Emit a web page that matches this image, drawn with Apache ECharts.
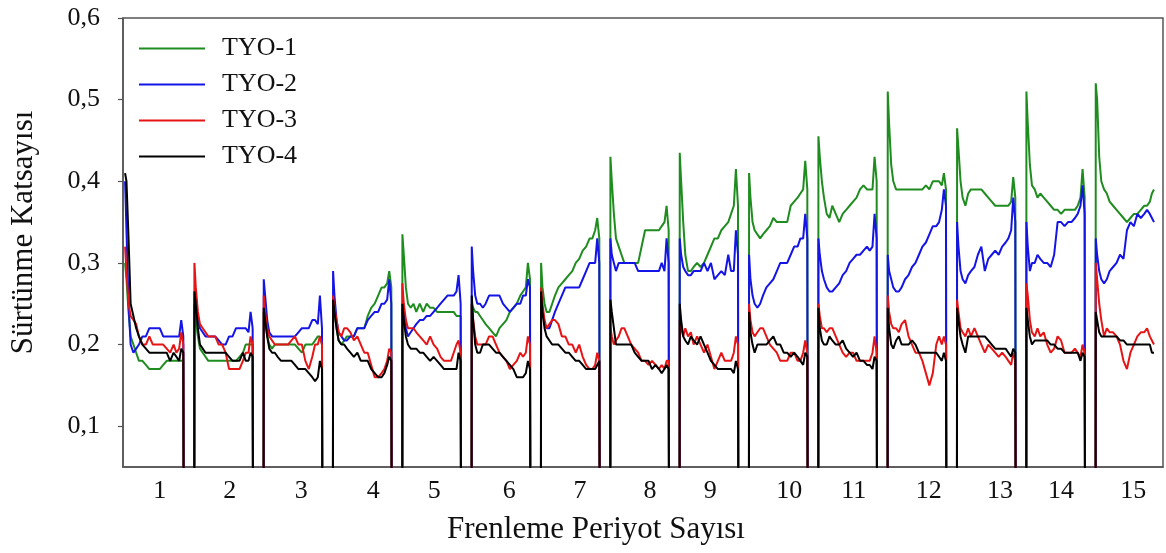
<!DOCTYPE html>
<html>
<head>
<meta charset="utf-8">
<script src="https://cdn.jsdelivr.net/npm/echarts@6/dist/echarts.min.js"></script>
<style>
  html, body { margin: 0; padding: 0; background: #fff; }
  #chart { width: 1166px; height: 553px; }
</style>
</head>
<body>
<div id="chart"></div>
<script>
// Braking periods on the x axis
const periods = ['1','2','3','4','5','6','7','8','9','10','11','12','13','14','15'];
// Where each period label sits along the x axis (period units)
const periodLabelPos = [0.53, 1.54, 2.57, 3.61, 4.49, 5.57, 6.59, 7.60, 8.47, 9.61, 10.54, 11.62, 12.65, 13.53, 14.57];
// Y tick values
const yTicks = [0.1, 0.2, 0.3, 0.4, 0.5, 0.6];
// Sampling points inside one braking period (fraction of a period)
const sampleOffsets = [0, 0.02, 0.05, 0.08, 0.12, 0.16, 0.20, 0.25, 0.30, 0.35, 0.40, 0.45, 0.50, 0.55, 0.60, 0.65, 0.70, 0.74, 0.78, 0.81, 0.84];

// Friction coefficient per period, one row per period
const tyo1 = [
  [0.30,0.28,0.24,0.21,0.20,0.19,0.18,0.18,0.175,0.17,0.17,0.17,0.17,0.175,0.18,0.18,0.18,0.18,0.18,0.18,0.18],
  [0.24,0.23,0.21,0.195,0.19,0.185,0.18,0.18,0.18,0.18,0.18,0.18,0.18,0.18,0.18,0.185,0.19,0.20,0.20,0.20,0.20],
  [0.24,0.23,0.21,0.20,0.195,0.20,0.20,0.20,0.20,0.20,0.20,0.20,0.195,0.19,0.20,0.20,0.20,0.205,0.21,0.21,0.20],
  [0.25,0.24,0.22,0.205,0.20,0.205,0.21,0.21,0.21,0.22,0.22,0.22,0.235,0.245,0.25,0.26,0.27,0.27,0.275,0.29,0.27],
  [0.335,0.31,0.27,0.25,0.245,0.25,0.24,0.25,0.24,0.25,0.245,0.245,0.24,0.24,0.24,0.24,0.24,0.24,0.235,0.235,0.235],
  [0.25,0.245,0.24,0.24,0.235,0.23,0.225,0.22,0.215,0.21,0.22,0.225,0.23,0.24,0.245,0.25,0.26,0.265,0.27,0.30,0.28],
  [0.30,0.27,0.25,0.24,0.24,0.25,0.26,0.27,0.275,0.28,0.285,0.29,0.30,0.305,0.315,0.32,0.33,0.33,0.34,0.355,0.33],
  [0.43,0.40,0.36,0.33,0.32,0.31,0.30,0.30,0.30,0.30,0.30,0.32,0.34,0.34,0.34,0.34,0.34,0.345,0.35,0.37,0.34],
  [0.435,0.40,0.35,0.31,0.29,0.29,0.295,0.30,0.295,0.30,0.31,0.32,0.33,0.33,0.34,0.345,0.35,0.36,0.37,0.415,0.37],
  [0.41,0.38,0.35,0.34,0.335,0.33,0.335,0.34,0.345,0.355,0.35,0.35,0.35,0.35,0.37,0.375,0.38,0.385,0.39,0.425,0.39],
  [0.455,0.43,0.40,0.38,0.36,0.355,0.37,0.36,0.35,0.36,0.365,0.37,0.375,0.38,0.39,0.395,0.39,0.39,0.39,0.43,0.40],
  [0.51,0.47,0.42,0.40,0.39,0.39,0.39,0.39,0.39,0.39,0.39,0.39,0.39,0.395,0.39,0.40,0.40,0.40,0.395,0.41,0.39],
  [0.465,0.44,0.40,0.38,0.37,0.385,0.39,0.39,0.39,0.39,0.385,0.38,0.375,0.37,0.37,0.37,0.37,0.37,0.375,0.405,0.38],
  [0.51,0.47,0.42,0.395,0.39,0.38,0.385,0.38,0.375,0.37,0.365,0.365,0.36,0.365,0.365,0.365,0.365,0.37,0.38,0.415,0.38],
  [0.52,0.50,0.43,0.40,0.39,0.385,0.375,0.37,0.365,0.36,0.355,0.35,0.355,0.36,0.36,0.365,0.37,0.37,0.375,0.385,0.39]
];
const tyo2 = [
  [0.40,0.34,0.25,0.20,0.19,0.195,0.20,0.21,0.21,0.22,0.22,0.22,0.22,0.21,0.21,0.21,0.21,0.21,0.21,0.23,0.21],
  [0.25,0.24,0.23,0.22,0.215,0.21,0.21,0.21,0.21,0.205,0.20,0.20,0.21,0.21,0.22,0.22,0.22,0.22,0.215,0.24,0.22],
  [0.28,0.26,0.23,0.215,0.21,0.21,0.21,0.21,0.21,0.21,0.21,0.21,0.215,0.22,0.22,0.22,0.23,0.23,0.225,0.26,0.22],
  [0.29,0.26,0.23,0.215,0.21,0.205,0.205,0.21,0.21,0.22,0.22,0.22,0.23,0.235,0.24,0.24,0.25,0.25,0.255,0.28,0.25],
  [0.25,0.24,0.22,0.21,0.215,0.22,0.225,0.23,0.23,0.235,0.235,0.24,0.245,0.25,0.255,0.26,0.26,0.26,0.265,0.285,0.25],
  [0.32,0.29,0.26,0.25,0.25,0.245,0.25,0.26,0.26,0.26,0.26,0.25,0.245,0.24,0.245,0.25,0.25,0.26,0.26,0.28,0.27],
  [0.26,0.24,0.225,0.22,0.22,0.23,0.24,0.25,0.26,0.27,0.27,0.27,0.27,0.27,0.28,0.29,0.30,0.30,0.30,0.33,0.30],
  [0.33,0.31,0.30,0.29,0.30,0.30,0.30,0.30,0.30,0.30,0.29,0.29,0.29,0.29,0.29,0.29,0.29,0.30,0.29,0.33,0.30],
  [0.33,0.31,0.295,0.29,0.285,0.285,0.29,0.29,0.29,0.30,0.29,0.30,0.28,0.285,0.29,0.285,0.31,0.29,0.29,0.34,0.31],
  [0.31,0.28,0.26,0.25,0.245,0.25,0.26,0.27,0.275,0.28,0.29,0.30,0.30,0.30,0.31,0.32,0.32,0.33,0.33,0.36,0.33],
  [0.33,0.31,0.29,0.28,0.27,0.265,0.265,0.27,0.275,0.285,0.29,0.30,0.305,0.31,0.31,0.315,0.32,0.315,0.32,0.36,0.33],
  [0.31,0.29,0.28,0.27,0.265,0.265,0.27,0.28,0.285,0.295,0.30,0.31,0.32,0.325,0.335,0.345,0.345,0.35,0.365,0.39,0.37],
  [0.35,0.32,0.29,0.28,0.275,0.285,0.29,0.295,0.31,0.32,0.29,0.305,0.31,0.315,0.31,0.32,0.325,0.33,0.34,0.38,0.35],
  [0.35,0.32,0.29,0.30,0.30,0.31,0.305,0.30,0.30,0.295,0.31,0.35,0.35,0.345,0.35,0.35,0.355,0.36,0.37,0.395,0.36],
  [0.33,0.31,0.29,0.28,0.275,0.28,0.29,0.295,0.30,0.31,0.305,0.34,0.35,0.345,0.36,0.355,0.36,0.365,0.36,0.355,0.35]
];
const tyo3 = [
  [0.32,0.29,0.25,0.235,0.23,0.225,0.21,0.20,0.20,0.21,0.20,0.20,0.20,0.20,0.195,0.19,0.20,0.19,0.195,0.215,0.20],
  [0.30,0.27,0.24,0.225,0.22,0.215,0.21,0.21,0.21,0.20,0.20,0.19,0.17,0.17,0.17,0.17,0.18,0.19,0.19,0.21,0.20],
  [0.26,0.24,0.22,0.21,0.205,0.20,0.20,0.20,0.20,0.20,0.205,0.21,0.20,0.20,0.18,0.17,0.185,0.20,0.20,0.21,0.20],
  [0.26,0.245,0.23,0.215,0.21,0.22,0.22,0.215,0.205,0.21,0.20,0.19,0.19,0.175,0.16,0.16,0.165,0.17,0.18,0.195,0.19],
  [0.275,0.25,0.23,0.22,0.22,0.22,0.215,0.21,0.205,0.20,0.21,0.20,0.195,0.185,0.18,0.18,0.18,0.19,0.20,0.205,0.19],
  [0.25,0.23,0.21,0.20,0.20,0.20,0.20,0.21,0.21,0.20,0.19,0.185,0.18,0.17,0.175,0.18,0.19,0.185,0.19,0.21,0.20],
  [0.27,0.25,0.23,0.22,0.225,0.23,0.23,0.225,0.21,0.21,0.20,0.20,0.19,0.20,0.185,0.175,0.17,0.17,0.175,0.19,0.18],
  [0.22,0.21,0.20,0.205,0.21,0.22,0.22,0.21,0.20,0.195,0.19,0.18,0.18,0.175,0.18,0.175,0.17,0.175,0.17,0.18,0.18],
  [0.23,0.22,0.21,0.22,0.21,0.215,0.20,0.21,0.20,0.19,0.20,0.185,0.17,0.18,0.19,0.18,0.18,0.18,0.19,0.21,0.20],
  [0.25,0.23,0.215,0.21,0.215,0.22,0.22,0.21,0.20,0.195,0.19,0.18,0.18,0.18,0.19,0.19,0.18,0.18,0.19,0.205,0.19],
  [0.25,0.235,0.22,0.22,0.215,0.22,0.22,0.21,0.20,0.19,0.185,0.19,0.19,0.18,0.18,0.18,0.18,0.18,0.19,0.21,0.19],
  [0.26,0.24,0.225,0.22,0.22,0.215,0.225,0.23,0.21,0.20,0.19,0.19,0.18,0.165,0.15,0.165,0.20,0.21,0.20,0.21,0.20],
  [0.255,0.24,0.22,0.215,0.21,0.22,0.21,0.22,0.21,0.20,0.19,0.20,0.195,0.19,0.185,0.19,0.185,0.18,0.175,0.19,0.18],
  [0.275,0.26,0.23,0.215,0.21,0.22,0.21,0.215,0.20,0.19,0.195,0.21,0.205,0.19,0.19,0.19,0.195,0.19,0.185,0.20,0.19],
  [0.30,0.28,0.25,0.23,0.21,0.22,0.215,0.215,0.21,0.20,0.18,0.17,0.19,0.20,0.21,0.215,0.215,0.22,0.21,0.205,0.20]
];
const tyo4 = [
  [0.41,0.40,0.33,0.25,0.235,0.22,0.21,0.20,0.195,0.19,0.19,0.19,0.19,0.19,0.19,0.18,0.19,0.185,0.18,0.195,0.19],
  [0.265,0.25,0.22,0.20,0.195,0.19,0.19,0.19,0.19,0.19,0.19,0.19,0.185,0.18,0.18,0.18,0.19,0.18,0.18,0.19,0.185],
  [0.245,0.23,0.21,0.195,0.19,0.19,0.185,0.18,0.18,0.18,0.18,0.175,0.17,0.17,0.17,0.165,0.16,0.155,0.16,0.18,0.17],
  [0.255,0.24,0.22,0.205,0.20,0.20,0.195,0.19,0.185,0.19,0.18,0.18,0.18,0.17,0.165,0.16,0.16,0.165,0.175,0.185,0.18],
  [0.25,0.23,0.21,0.20,0.195,0.195,0.195,0.19,0.19,0.185,0.18,0.185,0.18,0.175,0.17,0.17,0.17,0.17,0.17,0.19,0.18],
  [0.26,0.23,0.20,0.19,0.19,0.20,0.20,0.20,0.195,0.19,0.19,0.185,0.18,0.175,0.17,0.16,0.16,0.16,0.165,0.18,0.17],
  [0.265,0.24,0.22,0.21,0.205,0.20,0.20,0.20,0.195,0.19,0.19,0.185,0.18,0.18,0.175,0.17,0.17,0.17,0.17,0.175,0.18],
  [0.255,0.24,0.22,0.20,0.20,0.20,0.20,0.20,0.20,0.19,0.185,0.18,0.18,0.18,0.17,0.175,0.17,0.165,0.17,0.175,0.17],
  [0.25,0.23,0.21,0.205,0.20,0.21,0.205,0.20,0.21,0.20,0.19,0.18,0.175,0.17,0.17,0.17,0.17,0.17,0.165,0.18,0.17],
  [0.24,0.215,0.20,0.19,0.20,0.20,0.20,0.20,0.205,0.21,0.20,0.20,0.19,0.19,0.185,0.19,0.185,0.18,0.175,0.19,0.185],
  [0.245,0.22,0.205,0.20,0.20,0.21,0.205,0.20,0.20,0.205,0.195,0.19,0.185,0.19,0.18,0.18,0.175,0.175,0.17,0.185,0.18],
  [0.245,0.22,0.20,0.195,0.205,0.21,0.20,0.20,0.20,0.205,0.20,0.19,0.19,0.19,0.19,0.19,0.19,0.185,0.18,0.19,0.18],
  [0.245,0.23,0.21,0.20,0.19,0.21,0.21,0.21,0.21,0.21,0.21,0.205,0.20,0.195,0.195,0.195,0.195,0.19,0.185,0.195,0.19],
  [0.245,0.23,0.21,0.20,0.205,0.205,0.205,0.205,0.205,0.20,0.20,0.195,0.195,0.19,0.19,0.19,0.19,0.19,0.18,0.19,0.185],
  [0.24,0.23,0.215,0.21,0.21,0.21,0.21,0.21,0.21,0.205,0.205,0.20,0.20,0.20,0.20,0.20,0.20,0.20,0.20,0.19,0.19]
];

const seriesNames = ['TYO-1', 'TYO-2', 'TYO-3', 'TYO-4'];
const seriesColors = ['#1f8c1f', '#1414e6', '#e61414', '#000000'];

// Each period begins slightly after the integer mark; the pads are released
// between periods, so the trace falls to zero and climbs back on the next one.
const PERIOD_START = 0.03;
const RELEASE_AT = 0.845;
const FONT = '"Liberation Serif", "Times New Roman", serif';

function buildTrace(rows) {
  const pts = [];
  rows.forEach((vals, p) => {
    const start = p + PERIOD_START;
    if (p > 0) pts.push([start - 0.002, 0]);
    vals.forEach((v, j) => pts.push([start + sampleOffsets[j], v]));
    if (p < rows.length - 1) pts.push([p + RELEASE_AT + PERIOD_START, 0]);
  });
  return pts;
}

const traces = [tyo1, tyo2, tyo3, tyo4].map(buildTrace);

const chart = echarts.init(document.getElementById('chart'), null, { renderer: 'canvas' });
chart.setOption({
  animation: false,
  backgroundColor: '#ffffff',
  grid: {
    left: 123, right: 3, top: 18, bottom: 86,
    show: true, borderColor: '#555', borderWidth: 1.5, backgroundColor: 'transparent'
  },
  legend: {
    orient: 'vertical',
    left: 134, top: 30,
    itemWidth: 66, itemHeight: 2, itemGap: 9,
    icon: 'rect',
    data: seriesNames,
    textStyle: { fontFamily: FONT, fontSize: 26, color: '#111', lineHeight: 27, padding: [0, 0, 0, 12] }
  },
  xAxis: {
    type: 'value',
    min: 0, max: 15,
    name: 'Frenleme Periyot Sayısı',
    nameLocation: 'middle',
    nameGap: 47,
    nameTextStyle: { fontFamily: FONT, fontSize: 31, color: '#111', padding: [0, 94, 0, 0] },
    axisLine: { show: true, onZero: false, lineStyle: { color: '#555', width: 1.5 } },
    axisTick: { show: false },
    splitLine: { show: false },
    axisLabel: {
      customValues: periodLabelPos,
      margin: 11,
      fontFamily: FONT, fontSize: 26, color: '#111',
      formatter: function (v) {
        let best = 0;
        periodLabelPos.forEach((p, i) => { if (Math.abs(p - v) < Math.abs(periodLabelPos[best] - v)) best = i; });
        return periods[best];
      }
    }
  },
  yAxis: {
    type: 'value',
    min: 0.05, max: 0.6,
    name: 'Sürtünme Katsayısı',
    nameLocation: 'middle',
    nameGap: 84,
    nameRotate: 90,
    nameTextStyle: { fontFamily: FONT, fontSize: 31, color: '#111', padding: [0, 0, 0, 20] },
    axisLine: { show: true, lineStyle: { color: '#555', width: 1.5 } },
    axisTick: { show: true, inside: false, length: 5, customValues: yTicks, lineStyle: { color: '#555', width: 1.2 } },
    splitLine: { show: false },
    axisLabel: {
      customValues: yTicks,
      margin: 23,
      fontFamily: FONT, fontSize: 26, color: '#111',
      formatter: v => v.toFixed(1).replace('.', ',')
    }
  },
  series: traces.map((data, i) => ({
    name: seriesNames[i],
    type: 'line',
    data: data,
    showSymbol: false,
    symbol: 'none',
    clip: true,
    color: seriesColors[i],
    lineStyle: { color: seriesColors[i], width: 2 },
    emphasis: { disabled: true },
    z: 2 + i
  }))
});
</script>
</body>
</html>
